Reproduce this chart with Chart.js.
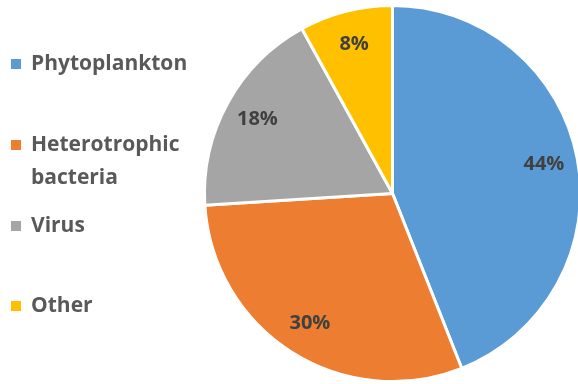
<!DOCTYPE html>
<html>
<head>
<meta charset="utf-8">
<script src="https://cdn.jsdelivr.net/npm/chart.js@4"></script>
<style>
  html, body { margin: 0; padding: 0; background: #fff; }
  #wrap { width: 578px; height: 384px; overflow: hidden; position: relative; }
</style>
</head>
<body>
<div id="wrap"><canvas id="pieChart" width="600" height="384"></canvas></div>
<script>
var categories = ["Phytoplankton", "Heterotrophic bacteria", "Virus", "Other"];
var shares = [44, 30, 18, 8];
var colors = ["#5B9BD5", "#ED7D31", "#A5A5A5", "#FFC000"];

var FONT = "'Open Sans', sans-serif";

// percentage labels inside the slices
var sliceLabels = {
  id: "sliceLabels",
  afterDatasetsDraw: function (chart) {
    var ctx = chart.ctx;
    var total = shares.reduce(function (a, b) { return a + b; }, 0);
    ctx.save();
    ctx.font = "bold 20px " + FONT;
    ctx.fillStyle = "#404040";
    ctx.textAlign = "center";
    ctx.textBaseline = "middle";
    chart.getDatasetMeta(0).data.forEach(function (arc, i) {
      var mid = (arc.startAngle + arc.endAngle) / 2;
      var r = arc.outerRadius * 0.82;
      var x = arc.x + Math.cos(mid) * r;
      var y = arc.y + Math.sin(mid) * r;
      ctx.fillText(Math.round(shares[i] / total * 100) + "%", x, y);
    });
    ctx.restore();
  }
};

// legend on the left, Excel style
var sideLegend = {
  id: "sideLegend",
  afterDraw: function (chart) {
    var ctx = chart.ctx;
    var rows = [64, 145, 226, 306];
    ctx.save();
    ctx.font = "bold 21px " + FONT;
    ctx.textBaseline = "middle";
    chart.data.labels.forEach(function (label, i) {
      var y = rows[i];
      ctx.fillStyle = chart.data.datasets[0].backgroundColor[i];
      ctx.fillRect(11, y - 5, 10, 10);
      ctx.fillStyle = "#595959";
      // wrap long labels
      var words = label.split(" ");
      var line = "";
      var lines = [];
      words.forEach(function (w) {
        var test = line ? line + " " + w : w;
        if (ctx.measureText(test).width > 175 && line) {
          lines.push(line);
          line = w;
        } else {
          line = test;
        }
      });
      lines.push(line);
      lines.forEach(function (t, k) {
        ctx.fillText(t, 31, y + k * 33);
      });
    });
    ctx.restore();
  }
};

new Chart(document.getElementById("pieChart"), {
  type: "pie",
  data: {
    labels: categories,
    datasets: [{
      data: shares,
      backgroundColor: colors,
      borderColor: "#ffffff",
      borderWidth: 3
    }]
  },
  options: {
    responsive: false,
    animation: false,
    layout: { padding: { left: 203, right: 18, top: 4, bottom: 1 } },
    plugins: {
      legend: { display: false },
      tooltip: { enabled: false }
    }
  },
  plugins: [sliceLabels, sideLegend]
});
</script>
</body>
</html>
